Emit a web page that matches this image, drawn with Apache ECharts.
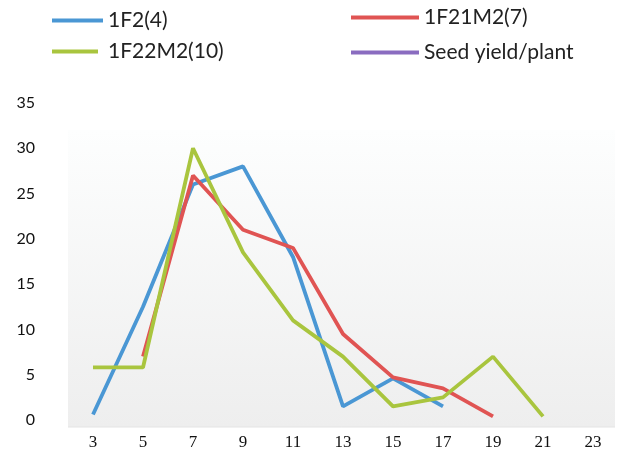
<!DOCTYPE html>
<html>
<head>
<meta charset="utf-8">
<script src="https://cdn.jsdelivr.net/npm/echarts@6/dist/echarts.min.js"></script>
<style>html,body{margin:0;padding:0;background:#fff;}#c{width:622px;height:451px;}</style>
</head>
<body>
<div id="c"></div>
<script>
var categories = ['3','5','7','9','11','13','15','17','19','21','23'];
var seriesNames = ['1F2(4)','1F21M2(7)','1F22M2(10)','Seed yield/plant'];
var f2 = [0.6, 12.5, 26, 28, 18, 1.5, 4.6, 1.5, null, null, null];
var f21m2 = [null, 7, 27, 21, 19, 9.5, 4.7, 3.5, 0.4, null, null];
var f22m2 = [5.8, 5.8, 30, 18.5, 11, 7, 1.5, 2.5, 7, 0.4, null];
var seedYield = [];
var yTicks = [0, 5, 10, 15, 20, 25, 30, 35];

var colors = ['#4a97d4', '#e05453', '#a9c53e', '#8a6cc0'];

var chart = echarts.init(document.getElementById('c'));
function leg(name, left, top, w, pad) {
  return {
    data: [name], left: left, top: top, itemWidth: w, itemHeight: 4,
    icon: 'rect', selectedMode: false,
    textStyle: {fontFamily: 'Lato', fontSize: 21, color: '#222', padding: [0, 0, 0, pad]}
  };
}
chart.setOption({
  animation: false,
  color: colors,
  legend: [
    leg(seriesNames[0], 47, 5, 51, 0),
    leg(seriesNames[1], 346, 2, 68, 0),
    leg(seriesNames[2], 47, 36, 46, 5),
    leg(seriesNames[3], 346, 37, 68, 0)
  ],
  graphic: [{
    type: 'rect', z: 0, silent: true,
    shape: {x: 68, y: 130, width: 547, height: 297},
    style: {fill: new echarts.graphic.LinearGradient(0, 0, 0, 1, [
      {offset: 0, color: '#fdfefe'}, {offset: 1, color: '#eeeeee'}])}
  }, {
    type: 'line', z: 0, silent: true,
    shape: {x1: 68, y1: 427, x2: 615, y2: 427},
    style: {stroke: '#e4e4e4', lineWidth: 1}
  }],
  grid: {left: 93, right: 29, top: 103, bottom: 31},
  xAxis: {
    type: 'category', data: categories, boundaryGap: false,
    axisLine: {show: false}, axisTick: {show: false}, splitLine: {show: false},
    axisLabel: {margin: 14, fontFamily: 'Liberation Serif', fontSize: 17, color: '#111'}
  },
  yAxis: {
    type: 'value', min: 0, max: 35, interval: 5,
    axisLine: {show: false}, axisTick: {show: false}, splitLine: {show: false},
    axisLabel: {margin: 58, fontFamily: 'Lato', fontSize: 16, color: '#111',
      formatter: function (v) { return yTicks.indexOf(v) >= 0 ? String(v) : ''; }}
  },
  series: [
    {name: seriesNames[0], type: 'line', data: f2, symbol: 'none', lineStyle: {width: 3.8}},
    {name: seriesNames[1], type: 'line', data: f21m2, symbol: 'none', lineStyle: {width: 3.8}},
    {name: seriesNames[2], type: 'line', data: f22m2, symbol: 'none', lineStyle: {width: 3.8}},
    {name: seriesNames[3], type: 'line', data: seedYield, symbol: 'none', lineStyle: {width: 3.8}}
  ]
});
</script>
</body>
</html>
